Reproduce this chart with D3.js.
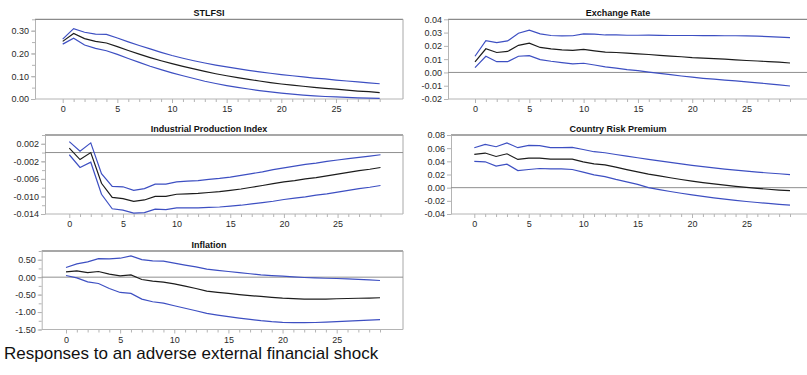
<!DOCTYPE html>
<html>
<head>
<meta charset="utf-8">
<script src="https://cdn.jsdelivr.net/npm/d3@7"></script>
<style>
  html, body { margin: 0; padding: 0; background: #fff; }
  svg { display: block; font-family: "Liberation Sans", Arial, sans-serif; }
</style>
</head>
<body>
<svg id="chart" width="807" height="375"></svg>
<script>
// Horizon (periods after the shock)
const periods = d3.range(0, 30);
const xTickLabels = [0, 5, 10, 15, 20, 25];

// STLFSI response with confidence band
const stlUpper = [0.263,0.309,0.293,0.285,0.284,0.268,0.251,0.235,0.220,0.205,0.191,0.179,0.168,0.158,0.149,0.141,0.133,0.126,0.119,0.113,0.107,0.102,0.097,0.092,0.088,0.083,0.079,0.075,0.071,0.067];
const stlMid   = [0.253,0.288,0.265,0.253,0.246,0.230,0.213,0.197,0.182,0.168,0.155,0.143,0.132,0.121,0.111,0.102,0.094,0.086,0.079,0.072,0.066,0.061,0.056,0.051,0.047,0.043,0.039,0.035,0.032,0.028];
const stlLower = [0.241,0.267,0.237,0.222,0.212,0.196,0.178,0.161,0.144,0.129,0.115,0.102,0.090,0.078,0.068,0.059,0.051,0.044,0.037,0.031,0.026,0.021,0.017,0.014,0.011,0.009,0.007,0.005,0.004,0.003];
const stlTicks = [0.00, 0.10, 0.20, 0.30];

// Exchange rate
const erUpper = [0.0122,0.0239,0.0224,0.0237,0.0295,0.0318,0.0290,0.0278,0.0275,0.0276,0.0290,0.0288,0.0282,0.0282,0.0280,0.0280,0.0281,0.0279,0.0278,0.0278,0.0278,0.0277,0.0277,0.0276,0.0276,0.0275,0.0273,0.0270,0.0266,0.0262];
const erMid   = [0.0079,0.0178,0.0150,0.0158,0.0204,0.0221,0.0188,0.0178,0.0170,0.0166,0.0173,0.0163,0.0153,0.0150,0.0145,0.0140,0.0135,0.0129,0.0123,0.0118,0.0112,0.0108,0.0104,0.0100,0.0095,0.0090,0.0086,0.0082,0.0077,0.0071];
const erLower = [0.0036,0.0122,0.0081,0.0081,0.0122,0.0127,0.0097,0.0084,0.0074,0.0064,0.0069,0.0056,0.0042,0.0033,0.0021,0.0013,0.0003,-0.0007,-0.0017,-0.0027,-0.0036,-0.0044,-0.0051,-0.0058,-0.0064,-0.0071,-0.0078,-0.0086,-0.0094,-0.0102];
const erTicks = [-0.02, -0.01, 0.00, 0.01, 0.02, 0.03, 0.04];

// Industrial production index
const ipUpper = [0.0025,0.0003,0.0022,-0.0048,-0.0077,-0.0078,-0.0086,-0.0082,-0.0072,-0.0072,-0.0067,-0.0065,-0.0064,-0.0061,-0.0059,-0.0056,-0.0052,-0.0048,-0.0044,-0.0039,-0.0035,-0.0031,-0.0027,-0.0024,-0.0020,-0.0017,-0.0014,-0.0011,-0.0008,-0.0005];
const ipMid   = [0.0010,-0.0016,0.0000,-0.0070,-0.0102,-0.0105,-0.0111,-0.0108,-0.0100,-0.0100,-0.0095,-0.0094,-0.0093,-0.0091,-0.0089,-0.0086,-0.0083,-0.0079,-0.0075,-0.0071,-0.0067,-0.0064,-0.0060,-0.0057,-0.0053,-0.0049,-0.0045,-0.0041,-0.0038,-0.0034];
const ipLower = [-0.0005,-0.0034,-0.0022,-0.0095,-0.0128,-0.0131,-0.0138,-0.0137,-0.0129,-0.0130,-0.0126,-0.0126,-0.0126,-0.0125,-0.0124,-0.0122,-0.0120,-0.0117,-0.0114,-0.0111,-0.0107,-0.0104,-0.0101,-0.0097,-0.0094,-0.0090,-0.0086,-0.0082,-0.0079,-0.0075];
const ipTicks = [-0.014, -0.010, -0.006, -0.002, 0.002];

// Country risk premium
const crUpper = [0.0607,0.0658,0.0622,0.0679,0.0607,0.0643,0.0638,0.0607,0.0607,0.0612,0.0580,0.0546,0.0530,0.0504,0.0478,0.0454,0.0430,0.0406,0.0383,0.0361,0.0340,0.0320,0.0301,0.0283,0.0266,0.0250,0.0236,0.0223,0.0211,0.0199];
const crMid   = [0.0505,0.0526,0.0474,0.0515,0.0429,0.0449,0.0449,0.0434,0.0434,0.0434,0.0393,0.0362,0.0347,0.0313,0.0275,0.0240,0.0207,0.0178,0.0151,0.0124,0.0099,0.0077,0.0057,0.0038,0.0019,0.0003,-0.0011,-0.0024,-0.0036,-0.0046];
const crLower = [0.0398,0.0393,0.0327,0.0357,0.0260,0.0276,0.0291,0.0286,0.0286,0.0276,0.0235,0.0194,0.0168,0.0125,0.0087,0.0051,0.0000,-0.0030,-0.0058,-0.0085,-0.0110,-0.0133,-0.0155,-0.0175,-0.0193,-0.0210,-0.0225,-0.0240,-0.0253,-0.0265];
const crTicks = [-0.04, -0.02, 0.00, 0.02, 0.04, 0.06, 0.08];

// Inflation
const inUpper = [0.276,0.381,0.438,0.533,0.524,0.543,0.610,0.505,0.467,0.457,0.400,0.345,0.295,0.229,0.195,0.162,0.130,0.098,0.067,0.045,0.029,0.008,-0.010,-0.022,-0.031,-0.038,-0.050,-0.062,-0.078,-0.095];
const inMid   = [0.152,0.181,0.133,0.162,0.086,0.038,0.067,-0.067,-0.114,-0.143,-0.190,-0.257,-0.324,-0.400,-0.435,-0.467,-0.498,-0.527,-0.552,-0.578,-0.600,-0.615,-0.629,-0.632,-0.628,-0.619,-0.612,-0.605,-0.598,-0.590];
const inLower = [0.048,-0.019,-0.133,-0.181,-0.324,-0.438,-0.467,-0.629,-0.705,-0.743,-0.819,-0.890,-0.962,-1.038,-1.088,-1.133,-1.172,-1.212,-1.248,-1.275,-1.295,-1.303,-1.305,-1.300,-1.290,-1.276,-1.262,-1.248,-1.233,-1.219];
const inTicks = [-1.50, -1.00, -0.50, 0.00, 0.50];

const caption = "Responses to an adverse external financial shock";

// Panel definitions: series, axis domain, ticks, and placement on the page
const panels = [
  { title: "STLFSI", upper: stlUpper, mid: stlMid, lower: stlLower, domain: [0, 0.35], ticks: stlTicks, minorStep: 0.05, fmt: ".2f", zero: false,
    row: 0, left: 35, x0: 62.7, x29: 379.7, right: 403, titleX: 209 },
  { title: "Exchange Rate", upper: erUpper, mid: erMid, lower: erLower, domain: [-0.02, 0.04], ticks: erTicks, minorStep: null, fmt: ".2f", zero: true,
    row: 0, left: 448, x0: 475, x29: 790, right: 813, titleX: 618 },
  { title: "Industrial Production Index", upper: ipUpper, mid: ipMid, lower: ipLower, domain: [-0.014, 0.004], ticks: ipTicks, minorStep: 0.002, fmt: ".3f", zero: true,
    row: 1, left: 45, x0: 69.3, x29: 380.5, right: 403, titleX: 209 },
  { title: "Country Risk Premium", upper: crUpper, mid: crMid, lower: crLower, domain: [-0.04, 0.08], ticks: crTicks, minorStep: null, fmt: ".2f", zero: true,
    row: 1, left: 451, x0: 474.3, x29: 790, right: 813, titleX: 618 },
  { title: "Inflation", upper: inUpper, mid: inMid, lower: inLower, domain: [-1.5, 0.75], ticks: inTicks, minorStep: 0.25, fmt: ".2f", zero: true,
    row: 2, left: 41.7, x0: 66, x29: 380, right: 403, titleX: 209 }
];

const rowTop = [19.3, 135, 251];
const rowBottom = [99, 214, 329.5];

const svg = d3.select("#chart");
const axisGrey = "#b4b4b4";
const textColor = "#2a2a2a";
const blue = "#3d4fc2";

panels.forEach(p => {
  const top = rowTop[p.row], bottom = rowBottom[p.row];
  const x = d3.scaleLinear().domain([0, 29]).range([p.x0, p.x29]);
  const y = d3.scaleLinear().domain(p.domain).range([bottom, top]);
  const g = svg.append("g");
  const fmt = v => d3.format(p.fmt)(v).replace("\u2212", "-");

  // Title
  g.append("text")
    .attr("x", p.titleX).attr("y", top - 3)
    .attr("text-anchor", "middle")
    .attr("font-size", 9).attr("font-weight", "bold")
    .attr("fill", "#111")
    .text(p.title);

  // Frame: top rule and right border
  g.append("line")
    .attr("x1", p.left).attr("x2", p.right)
    .attr("y1", top).attr("y2", top)
    .attr("stroke", "#8a8a8a").attr("stroke-width", 1.3);
  g.append("line")
    .attr("x1", p.right).attr("x2", p.right)
    .attr("y1", top).attr("y2", bottom)
    .attr("stroke", "#a8a8a8").attr("stroke-width", 1);

  // Left axis: minor ticks, then labelled ticks
  if (p.minorStep) {
    const n = Math.round((p.domain[1] - p.domain[0]) / p.minorStep);
    const minor = d3.range(0, n + 1).map(i => p.domain[0] + i * p.minorStep);
    g.append("g")
      .attr("transform", `translate(${p.left},0)`)
      .call(d3.axisLeft(y).tickValues(minor).tickSize(3).tickFormat(""))
      .call(a => a.select(".domain").remove())
      .call(a => a.selectAll("line").attr("stroke", axisGrey));
  }
  const yAxis = g.append("g")
    .attr("transform", `translate(${p.left},0)`)
    .call(d3.axisLeft(y).tickValues(p.ticks).tickSize(4).tickPadding(2).tickFormat(fmt).tickSizeOuter(0));
  yAxis.select(".domain").attr("stroke", axisGrey);
  yAxis.selectAll("line").attr("stroke", axisGrey);
  yAxis.selectAll("text").attr("font-size", 9).attr("fill", textColor)
    .attr("font-family", "'Liberation Sans', Arial, sans-serif");

  // Bottom axis: unit ticks with labels every five periods
  const xAxis = g.append("g")
    .attr("transform", `translate(0,${bottom})`)
    .call(d3.axisBottom(x).tickValues(periods).tickSize(3).tickPadding(4)
      .tickFormat(d => xTickLabels.includes(d) ? d : ""));
  xAxis.select(".domain").remove();
  xAxis.selectAll("line").attr("stroke", axisGrey)
    .attr("y2", d => xTickLabels.includes(d) ? 4 : 3);
  xAxis.selectAll("text").attr("font-size", 9).attr("fill", textColor)
    .attr("font-family", "'Liberation Sans', Arial, sans-serif");
  g.append("line")
    .attr("x1", p.left).attr("x2", p.right)
    .attr("y1", bottom).attr("y2", bottom)
    .attr("stroke", axisGrey);

  // Zero reference line
  if (p.zero) {
    g.append("line")
      .attr("x1", p.left).attr("x2", p.right)
      .attr("y1", y(0)).attr("y2", y(0))
      .attr("stroke", "#8f8f8f").attr("stroke-width", 1);
  }

  // Response and band lines
  const line = d3.line().x((d, i) => x(periods[i])).y(d => y(d));
  [[p.upper, blue], [p.lower, blue], [p.mid, "#1c1c1c"]].forEach(([vals, col]) => {
    g.append("path")
      .datum(vals)
      .attr("d", line)
      .attr("fill", "none")
      .attr("stroke", col)
      .attr("stroke-width", 1.2)
      .attr("stroke-linejoin", "miter");
  });
});

// Caption
svg.append("text")
  .attr("x", 4).attr("y", 359)
  .attr("font-size", 17)
  .attr("fill", "#111")
  .text(caption);
</script>
</body>
</html>
